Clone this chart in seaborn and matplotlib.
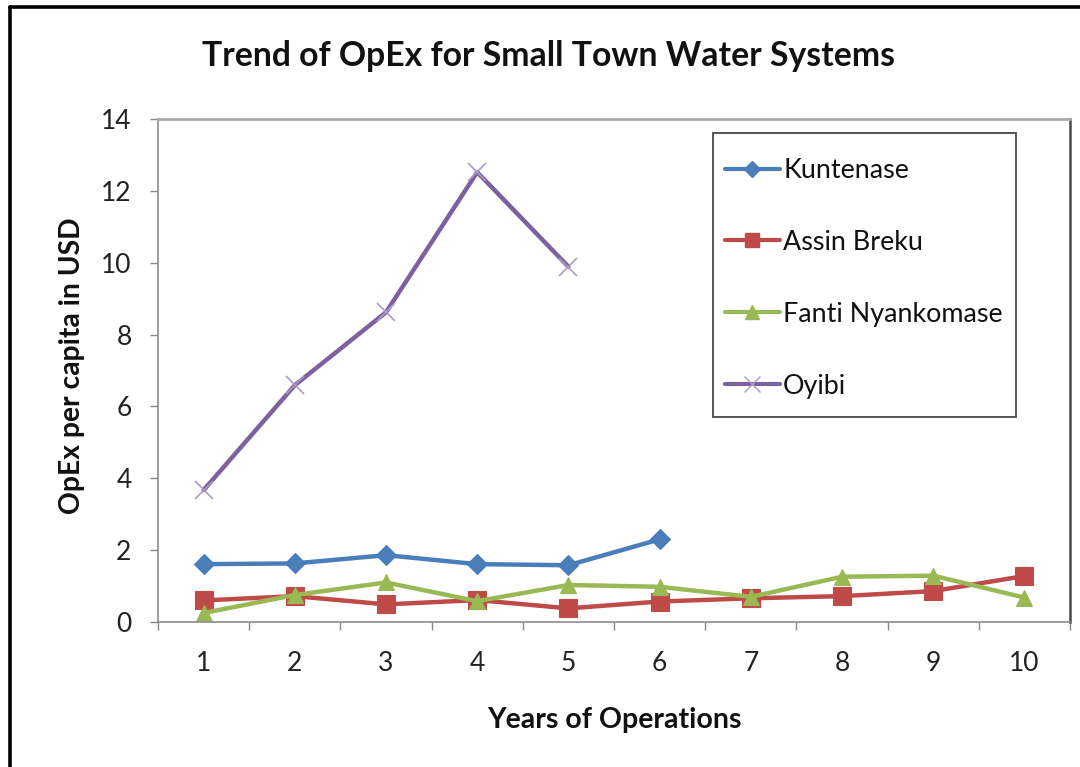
import matplotlib
matplotlib.use("Agg")
import matplotlib.pyplot as plt
from matplotlib.lines import Line2D
from matplotlib.patches import Rectangle
import numpy as np
import pandas as pd
import seaborn as sns

# OpEx per capita (USD) by year of operation
years = list(range(1, 11))
kuntenase = [1.61, 1.63, 1.86, 1.61, 1.58, 2.30]
assin_breku = [0.60, 0.72, 0.49, 0.61, 0.38, 0.57, 0.66, 0.72, 0.86, 1.28]
fanti_nyankomase = [0.25, 0.75, 1.10, 0.58, 1.03, 0.98, 0.70, 1.26, 1.29, 0.68]
oyibi = [3.67, 6.59, 8.62, 12.52, 9.89]

series_names = ["Kuntenase", "Assin Breku", "Fanti Nyankomase", "Oyibi"]
series_values = [kuntenase, assin_breku, fanti_nyankomase, oyibi]

colors = {
    "Kuntenase": "#4A7EBB",
    "Assin Breku": "#BE4B48",
    "Fanti Nyankomase": "#98B954",
    "Oyibi": "#7D60A0",
}
markers = {"Kuntenase": "D", "Assin Breku": "s", "Fanti Nyankomase": "^", "Oyibi": "x"}
marker_sizes = {"Kuntenase": 10.5, "Assin Breku": 12.5, "Fanti Nyankomase": 12, "Oyibi": 13}

rows = []
for name, vals in zip(series_names, series_values):
    for yr, v in zip(years, vals):
        rows.append({"Year": yr, "OpEx": v, "System": name})
df = pd.DataFrame(rows)

sns.set_theme(style="white")
plt.rcParams["font.family"] = ["Lato", "DejaVu Sans"]

W, H = 1080, 767
fig = plt.figure(figsize=(W / 100, H / 100), dpi=100)
ax = fig.add_axes([158 / W, 1 - 622 / H, (1070 - 158) / W, (622 - 119) / H])

for name in series_names:
    c = colors[name]
    sub = df[df["System"] == name]
    if name == "Oyibi":
        mkw = dict(markeredgecolor="#A89CC4", markeredgewidth=1.2)
    else:
        mkw = dict(markerfacecolor=c, markeredgecolor=c, markeredgewidth=0.8)
    sns.lineplot(data=sub, x="Year", y="OpEx", color=c, marker=markers[name],
                 markersize=marker_sizes[name], linewidth=3.2, legend=False, ax=ax,
                 solid_joinstyle="round", **mkw)

ax.set_xlim(0.5, 10.5)
ax.set_ylim(0, 14)
ax.set_xticks(years)
ax.set_xticklabels([str(y) for y in years])
ax.set_xticks(np.arange(0.5, 11, 1.0), minor=True)
ax.set_yticks(np.arange(0, 15, 2))
ax.tick_params(axis="x", which="major", length=0, pad=21, labelsize=19, labelcolor="#222222")
ax.tick_params(axis="x", which="minor", length=6, width=1.0, color="#888888", direction="out", bottom=True)
ax.tick_params(axis="y", which="major", length=6, width=1.0, color="#888888", direction="out",
               left=True, pad=13, labelsize=19, labelcolor="#222222")

ax.set_xlabel("")
ax.set_ylabel("")
for side in ["left", "bottom"]:
    ax.spines[side].set_color("#8C8C8C")
    ax.spines[side].set_linewidth(1.2)
ax.spines["top"].set_color("#A8A8A8")
ax.spines["top"].set_linewidth(2.0)
ax.spines["right"].set_color("#4A4A4A")
ax.spines["right"].set_linewidth(1.8)
ax.grid(False)

fig.text(548 / W, 1 - 56 / H, "Trend of OpEx for Small Town Water Systems",
         ha="center", va="center", fontsize=24.3, fontweight="bold", color="#111111")
fig.text(614 / W, 1 - 720 / H, "Years of Operations",
         ha="center", va="center", fontsize=20.5, fontweight="bold", color="#111111")
fig.text(72 / W, 1 - 366 / H, "OpEx per capita in USD", rotation=90,
         ha="center", va="center", fontsize=20.3, fontweight="bold", color="#111111")

# legend box and entries
fig.patches.append(Rectangle((713 / W, 1 - 417 / H), (1016 - 713) / W, (417 - 133) / H,
                             transform=fig.transFigure, fill=False, edgecolor="#555555",
                             linewidth=1.4))
leg_handles = []
for name in series_names:
    c = colors[name]
    if name == "Oyibi":
        h = Line2D([], [], color=c, lw=3.0, marker="x", markersize=12,
                   markeredgecolor="#A89CC4", markeredgewidth=1.0)
    else:
        h = Line2D([], [], color=c, lw=3.0, marker=markers[name],
                   markersize=marker_sizes[name] * 0.8, markerfacecolor=c, markeredgecolor=c)
    leg_handles.append(h)
fig.legend(leg_handles, series_names, loc="upper left",
           bbox_to_anchor=(725 / W, 1 - 158 / H), bbox_transform=fig.transFigure,
           frameon=False, fontsize=19.4, handlelength=2.04, handletextpad=0.12,
           labelspacing=1.74, borderpad=0, borderaxespad=0, labelcolor="#111111")

# outer chart border (left and top edges)
fig.add_artist(Line2D([10 / W, 10 / W], [0, 1 - 7 / H], transform=fig.transFigure,
                      color="black", linewidth=2.6))
fig.add_artist(Line2D([10 / W, 1], [1 - 7 / H, 1 - 7 / H], transform=fig.transFigure,
                      color="black", linewidth=2.6))

fig.savefig("out.png", dpi=100)
